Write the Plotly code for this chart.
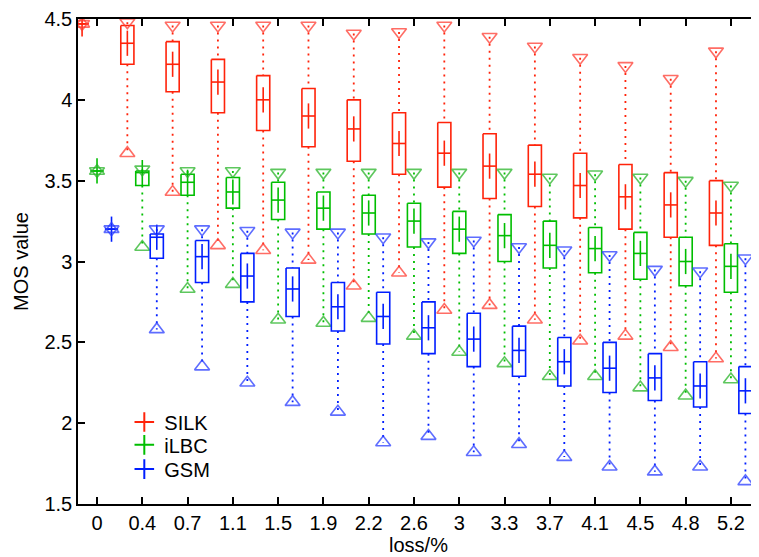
import plotly.graph_objects as go

categories = ["0", "0.4", "0.7", "1.1", "1.5", "1.9", "2.2", "2.6", "3", "3.3", "3.7", "4.1", "4.5", "4.8", "5.2"]

silk_max = [4.47, 4.48, 4.46, 4.46, 4.46, 4.46, 4.41, 4.42, 4.46, 4.39, 4.33, 4.26, 4.21, 4.13, 4.30]
silk_q3 = [4.47, 4.46, 4.36, 4.25, 4.15, 4.07, 4.00, 3.92, 3.86, 3.79, 3.72, 3.67, 3.60, 3.55, 3.50]
silk_med = [4.47, 4.35, 4.22, 4.11, 4.00, 3.90, 3.82, 3.73, 3.67, 3.59, 3.54, 3.47, 3.40, 3.35, 3.30]
silk_q1 = [4.47, 4.22, 4.05, 3.92, 3.81, 3.71, 3.62, 3.54, 3.46, 3.39, 3.34, 3.27, 3.20, 3.15, 3.10]
silk_min = [4.47, 3.67, 3.43, 3.10, 3.07, 3.01, 2.85, 2.93, 2.70, 2.73, 2.64, 2.51, 2.54, 2.47, 2.40]

ilbc_max = [3.56, 3.57, 3.56, 3.56, 3.55, 3.55, 3.55, 3.55, 3.55, 3.55, 3.52, 3.54, 3.52, 3.50, 3.47]
ilbc_q3 = [3.56, 3.56, 3.54, 3.52, 3.49, 3.43, 3.41, 3.36, 3.31, 3.29, 3.25, 3.21, 3.18, 3.15, 3.11]
ilbc_med = [3.56, 3.55, 3.49, 3.43, 3.38, 3.33, 3.30, 3.25, 3.20, 3.16, 3.10, 3.08, 3.05, 3.00, 2.97]
ilbc_q1 = [3.56, 3.47, 3.41, 3.33, 3.26, 3.20, 3.17, 3.09, 3.05, 3.00, 2.96, 2.93, 2.89, 2.85, 2.81]
ilbc_min = [3.56, 3.09, 2.83, 2.86, 2.64, 2.62, 2.65, 2.54, 2.44, 2.37, 2.29, 2.29, 2.22, 2.17, 2.27]

gsm_max = [3.20, 3.20, 3.20, 3.19, 3.18, 3.18, 3.15, 3.12, 3.13, 3.09, 3.07, 3.04, 2.95, 2.94, 3.02]
gsm_q3 = [3.20, 3.17, 3.13, 3.05, 2.96, 2.87, 2.81, 2.75, 2.68, 2.60, 2.53, 2.50, 2.43, 2.38, 2.35]
gsm_med = [3.20, 3.15, 3.03, 2.91, 2.83, 2.72, 2.66, 2.59, 2.52, 2.45, 2.38, 2.34, 2.28, 2.23, 2.20]
gsm_q1 = [3.20, 3.02, 2.87, 2.75, 2.66, 2.57, 2.49, 2.43, 2.35, 2.29, 2.23, 2.19, 2.14, 2.10, 2.06]
gsm_min = [3.20, 2.58, 2.35, 2.25, 2.13, 2.07, 1.88, 1.92, 1.82, 1.87, 1.79, 1.73, 1.70, 1.73, 1.64]

series = [
    ("SILK", "rgb(255,35,10)", "rgba(255,60,50,0.75)", -0.33, silk_max, silk_q3, silk_med, silk_q1, silk_min),
    ("iLBC", "rgb(0,190,0)", "rgba(40,180,40,0.75)", 0.0, ilbc_max, ilbc_q3, ilbc_med, ilbc_q1, ilbc_min),
    ("GSM", "rgb(0,30,255)", "rgba(40,60,255,0.75)", 0.32, gsm_max, gsm_q3, gsm_med, gsm_q1, gsm_min),
]
legend_ids = ["legend", "legend2", "legend3"]
legend_y = [0.169, 0.122, 0.072]

HW = 0.145
fig = go.Figure()

for k, (name, col, tcol, off, vmax, q3, med, q1, vmin) in enumerate(series):
    xs = [i + off for i in range(len(categories))]
    wx, wy = [], []
    for x, a, b, c, d in zip(xs, vmax, q3, q1, vmin):
        wx += [x, x, None, x, x, None]
        wy += [a, b, None, c, d, None]
    fig.add_trace(go.Scatter(x=wx, y=wy, mode="lines", showlegend=False, hoverinfo="skip",
                             line=dict(color=col, width=1.8, dash="2px,5px")))
    bx, by = [], []
    for x, b, m, c in zip(xs, q3, med, q1):
        bx += [x - HW, x + HW, x + HW, x - HW, x - HW, None, x - HW, x + HW, None]
        by += [b, b, c, c, b, None, m, m, None]
    fig.add_trace(go.Scatter(x=bx, y=by, mode="lines", showlegend=False, hoverinfo="skip",
                             line=dict(color=col, width=1.6)))
    fig.add_trace(go.Scatter(x=xs, y=med, mode="markers", showlegend=False, hoverinfo="skip",
                             marker=dict(symbol="line-ns", size=18, line=dict(color=col, width=1.6))))
    fig.add_trace(go.Scatter(x=xs, y=vmax, mode="markers", showlegend=False, hoverinfo="skip",
                             marker=dict(symbol="triangle-down-open", size=13, color=tcol,
                                         line=dict(color=tcol, width=1.6))))
    fig.add_trace(go.Scatter(x=xs, y=vmin, mode="markers", showlegend=False, hoverinfo="skip",
                             marker=dict(symbol="triangle-up-open", size=13, color=tcol,
                                         line=dict(color=tcol, width=1.6))))
    fig.add_trace(go.Scatter(x=[None], y=[None], mode="markers", name=name, legend=legend_ids[k],
                             marker=dict(symbol="cross-thin", size=14, color=col,
                                         line=dict(color=col, width=2))))

FONT = "Liberation Sans, Arial, sans-serif"
axis_font = dict(family=FONT, size=20, color="black")

legend_common = dict(x=0.068, xanchor="left", yanchor="middle", bgcolor="rgba(0,0,0,0)",
                     font=dict(family=FONT, size=20, color="black"), itemwidth=30)

fig.update_layout(
    width=751, height=549,
    margin=dict(l=70, r=0, t=11, b=53),
    paper_bgcolor="white", plot_bgcolor="white",
    font=axis_font,
    showlegend=True,
    legend=dict(y=legend_y[0], **legend_common),
    legend2=dict(y=legend_y[1], **legend_common),
    legend3=dict(y=legend_y[2], **legend_common),
    xaxis=dict(
        range=[-0.42, 14.62], tickmode="array", tickvals=list(range(len(categories))),
        ticktext=categories, ticks="inside", ticklen=7, tickwidth=1.5, tickcolor="black",
        showline=True, linecolor="black", linewidth=1.5, mirror="ticks",
        showgrid=False, zeroline=False, automargin=False,
        title=dict(text="loss/%", font=dict(size=20), standoff=2),
    ),
    yaxis=dict(
        range=[1.5, 4.5], dtick=0.5, tick0=1.5, ticks="inside", ticklen=7, tickwidth=1.5,
        tickcolor="black", showline=True, linecolor="black", linewidth=1.5, mirror="ticks",
        showgrid=False, zeroline=False, automargin=False,
        title=dict(text="MOS value", font=dict(size=20), standoff=10),
    ),
)

fig.write_html("out.html")
